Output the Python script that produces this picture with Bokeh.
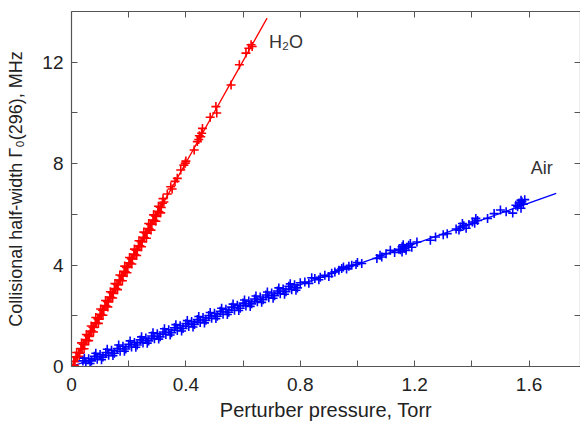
from bokeh.plotting import figure
from bokeh.models import LinearAxis, FixedTicker, Range1d, Label
from bokeh.embed import file_html
from bokeh.resources import INLINE

# ---------------- data ----------------
h2o_p = [0.008, 0.012, 0.016, 0.020, 0.025, 0.029, 0.033, 0.037, 0.041, 0.046,
         0.050, 0.054, 0.058, 0.062, 0.066, 0.071, 0.075, 0.079, 0.083, 0.087,
         0.092, 0.096, 0.100, 0.104, 0.108, 0.113, 0.117, 0.121, 0.125, 0.129,
         0.134, 0.138, 0.142, 0.146, 0.150, 0.155, 0.159, 0.163, 0.167, 0.171,
         0.176, 0.180, 0.184, 0.188, 0.192, 0.197, 0.201, 0.205, 0.209, 0.213,
         0.218, 0.222, 0.226, 0.230, 0.234, 0.239, 0.243, 0.247, 0.251, 0.255,
         0.260, 0.264, 0.268, 0.272, 0.276, 0.281, 0.285, 0.289, 0.293, 0.297,
         0.302, 0.306, 0.310, 0.314, 0.318,
         0.010, 0.018, 0.027, 0.035, 0.044, 0.052, 0.060, 0.069, 0.077, 0.085,
         0.094, 0.102, 0.110, 0.119, 0.127, 0.136, 0.144, 0.152, 0.161, 0.169,
         0.178, 0.186, 0.194, 0.203, 0.211, 0.220, 0.228, 0.236, 0.245, 0.253,
         0.262, 0.270, 0.278, 0.287, 0.295, 0.304, 0.312, 0.320,
         0.323, 0.335, 0.347, 0.352, 0.362, 0.370, 0.382, 0.393, 0.398, 0.400,
         0.429, 0.440, 0.445, 0.447, 0.452, 0.455, 0.458, 0.485, 0.505, 0.508,
         0.558, 0.587, 0.610, 0.620, 0.628, 0.632]
h2o_w = [0.21, 0.19, 0.38, 0.36, 0.55, 0.52, 0.71, 0.70, 0.88, 0.86,
         1.06, 1.02, 1.21, 1.19, 1.38, 1.40, 1.55, 1.54, 1.72, 1.70,
         1.89, 1.87, 2.06, 2.04, 2.22, 2.23, 2.40, 2.38, 2.57, 2.55,
         2.74, 2.72, 2.91, 2.88, 3.06, 3.07, 3.25, 3.22, 3.41, 3.39,
         3.58, 3.57, 3.75, 3.73, 3.91, 3.92, 4.09, 4.07, 4.25, 4.24,
         4.43, 4.41, 4.59, 4.58, 4.75, 4.76, 4.93, 4.92, 5.10, 5.08,
         5.27, 5.26, 5.44, 5.42, 5.60, 5.61, 5.78, 5.76, 5.94, 5.92,
         6.12, 6.10, 6.28, 6.27, 6.44,
         0.05, 0.55, 0.40, 0.93, 0.70, 1.26, 1.02, 1.60, 1.36, 1.93,
         1.70, 2.27, 2.02, 2.60, 2.35, 2.95, 2.70, 3.27, 3.03, 3.61,
         3.38, 3.96, 3.70, 4.30, 4.04, 4.63, 4.38, 4.96, 4.72, 5.30,
         5.06, 5.64, 5.38, 5.98, 5.73, 6.32, 6.06, 6.62,
         6.49, 6.80, 7.09, 7.00, 7.30, 7.42, 7.75, 7.94, 8.02, 8.10,
         8.54, 8.87, 8.95, 9.10, 9.06, 9.20, 9.39, 9.83, 10.25, 10.00,
         11.10, 11.90, 12.36, 12.55, 12.69, 12.62]

air_p = [0.04, 0.05, 0.06, 0.07, 0.08, 0.09, 0.10, 0.11, 0.12, 0.13,
         0.14, 0.15, 0.16, 0.17, 0.18, 0.19, 0.20, 0.21, 0.22, 0.23,
         0.24, 0.25, 0.26, 0.27, 0.28, 0.29, 0.30, 0.31, 0.32, 0.33,
         0.34, 0.35, 0.36, 0.37, 0.38, 0.39, 0.40, 0.41, 0.42, 0.43,
         0.44, 0.45, 0.46, 0.47, 0.48, 0.49, 0.50, 0.51, 0.52, 0.53,
         0.54, 0.55, 0.56, 0.57, 0.58, 0.59, 0.60, 0.61, 0.62, 0.63,
         0.64, 0.65, 0.66, 0.67, 0.68, 0.69, 0.70, 0.71, 0.72, 0.73,
         0.74, 0.75, 0.76, 0.77, 0.78, 0.79, 0.80,
         0.045, 0.065, 0.085, 0.105, 0.125, 0.145, 0.165, 0.185, 0.205, 0.225,
         0.245, 0.265, 0.285, 0.305, 0.325, 0.345, 0.365, 0.385, 0.405, 0.425,
         0.445, 0.465, 0.485, 0.505, 0.525, 0.545, 0.565, 0.585, 0.605, 0.625,
         0.645, 0.665, 0.685, 0.705, 0.725, 0.745, 0.765, 0.785,
         0.816, 0.830, 0.840, 0.851, 0.865, 0.870, 0.886, 0.900, 0.910, 0.921,
         0.935, 0.945, 0.951, 0.962, 0.970, 0.980, 0.995, 1.000, 1.015, 1.068,
         1.079, 1.085, 1.100, 1.115, 1.130, 1.145, 1.150, 1.156, 1.156, 1.160,
         1.165, 1.170, 1.179, 1.185, 1.190, 1.208, 1.255, 1.273, 1.300, 1.314,
         1.345, 1.355, 1.360, 1.367, 1.372, 1.380, 1.390, 1.402, 1.410, 1.414,
         1.420, 1.455, 1.478, 1.500, 1.520, 1.543, 1.554, 1.560, 1.565, 1.572,
         1.572, 1.575, 1.580, 1.585]
air_w = [0.22, 0.14, 0.31, 0.22, 0.40, 0.29, 0.47, 0.37, 0.55, 0.44,
         0.64, 0.52, 0.71, 0.60, 0.80, 0.69, 0.88, 0.77, 0.95, 0.85,
         1.05, 0.93, 1.12, 1.01, 1.20, 1.09, 1.29, 1.17, 1.36, 1.26,
         1.45, 1.33, 1.53, 1.42, 1.61, 1.50, 1.69, 1.58, 1.77, 1.66,
         1.85, 1.74, 1.93, 1.82, 2.01, 1.90, 2.10, 1.98, 2.18, 2.06,
         2.26, 2.14, 2.34, 2.22, 2.42, 2.30, 2.50, 2.39, 2.58, 2.47,
         2.66, 2.55, 2.74, 2.63, 2.82, 2.71, 2.90, 2.79, 2.98, 2.87,
         3.06, 2.95, 3.16, 3.03, 3.22, 3.10, 3.30,
         0.33, 0.12, 0.52, 0.27, 0.68, 0.43, 0.85, 0.60, 1.01, 0.76,
         1.17, 0.92, 1.33, 1.08, 1.49, 1.24, 1.65, 1.40, 1.81, 1.56,
         1.97, 1.72, 2.13, 1.89, 2.30, 2.05, 2.46, 2.21, 2.62, 2.37,
         2.78, 2.53, 2.94, 2.69, 3.10, 2.85, 3.26, 3.01,
         3.33, 3.28, 3.50, 3.47, 3.42, 3.52, 3.60, 3.55, 3.68, 3.73,
         3.80, 3.86, 3.92, 3.85, 3.95, 3.99, 4.02, 4.10, 4.06, 4.26,
         4.39, 4.32, 4.45, 4.58, 4.50, 4.62, 4.60, 4.72, 4.52, 4.80,
         4.66, 4.58, 4.78, 4.85, 4.70, 4.91, 4.98, 5.11, 5.20, 5.24,
         5.42, 5.38, 5.50, 5.64, 5.55, 5.45, 5.60, 5.70, 5.65, 5.84,
         5.76, 5.84, 6.03, 6.17, 6.10, 6.05, 6.36, 6.30, 6.45, 6.56,
         6.24, 6.50, 6.40, 6.58]

# fitted lines (end points)
h2o_fit_p = [0.0, 0.684]
h2o_fit_w = [0.0, 13.74]
air_fit_p = [0.0, 1.695]
air_fit_w = [0.0, 6.83]

x_major = [0.0, 0.4, 0.8, 1.2, 1.6]
x_minor = [0.2, 0.6, 1.0, 1.4]
y_major = [0, 4, 8, 12]
y_minor = [2, 6, 10]

FONT = "Liberation Sans"
AXC = "#555555"
TXT = "#222222"

p = figure(width=580, height=424, output_backend="svg", toolbar_location=None,
           x_range=Range1d(0, 1.78), y_range=Range1d(0, 14.0),
           min_border_left=71, min_border_right=0, min_border_top=11, min_border_bottom=58,
           outline_line_color=None, background_fill_color="white")
p.xgrid.visible = False
p.ygrid.visible = False
p.xaxis.visible = False
p.yaxis.visible = False

def style(ax, labels=True):
    ax.axis_line_color = AXC
    ax.axis_line_width = 1.2
    ax.major_tick_line_color = AXC
    ax.minor_tick_line_color = AXC
    ax.major_tick_in = 6
    ax.major_tick_out = 0
    ax.minor_tick_in = 6
    ax.minor_tick_out = 0
    ax.major_label_text_font = FONT
    ax.major_label_text_font_size = "19px"
    ax.major_label_text_color = TXT
    ax.axis_label_text_font = FONT
    ax.axis_label_text_font_size = "18px"
    ax.axis_label_text_font_style = "normal"
    ax.axis_label_text_color = TXT
    if not labels:
        ax.major_label_text_font_size = "0px"
        ax.major_label_text_alpha = 0

xt = FixedTicker(ticks=x_major, minor_ticks=x_minor)
yt = FixedTicker(ticks=y_major, minor_ticks=y_minor)

bx = LinearAxis(ticker=xt, axis_label="Perturber pressure, Torr")
style(bx)
bx.axis_label_text_font_size = "20px"
bx.major_label_standoff = 11
bx.axis_label_standoff = 5
p.add_layout(bx, "below")

ly = LinearAxis(ticker=yt, axis_label="Collisional half-width \u0393\u2080(296), MHz")
style(ly)
ly.major_label_standoff = 8
ly.axis_label_standoff = 13
p.add_layout(ly, "left")

tx = LinearAxis(ticker=xt)
style(tx, labels=False)
p.add_layout(tx, "above")

ry = LinearAxis(ticker=yt)
style(ry, labels=False)
p.add_layout(ry, "right")

p.line(h2o_fit_p, h2o_fit_w, line_color="#ff0000", line_width=1.3)
p.line(air_fit_p, air_fit_w, line_color="#0000ff", line_width=1.3)
p.scatter(h2o_p, h2o_w, marker="cross", size=9, line_color="#ff0000", line_width=1.6)
p.scatter(air_p, air_w, marker="cross", size=9, line_color="#0000ff", line_width=1.6)

p.add_layout(Label(x=0.691, y=12.4, text="H\u2082O", text_font=FONT, text_font_size="18px",
                   text_color="#333333"))
p.add_layout(Label(x=1.606, y=7.43, text="Air", text_font=FONT, text_font_size="18px",
                   text_color="#333333"))

open("out.html", "w").write(file_html(p, INLINE))
